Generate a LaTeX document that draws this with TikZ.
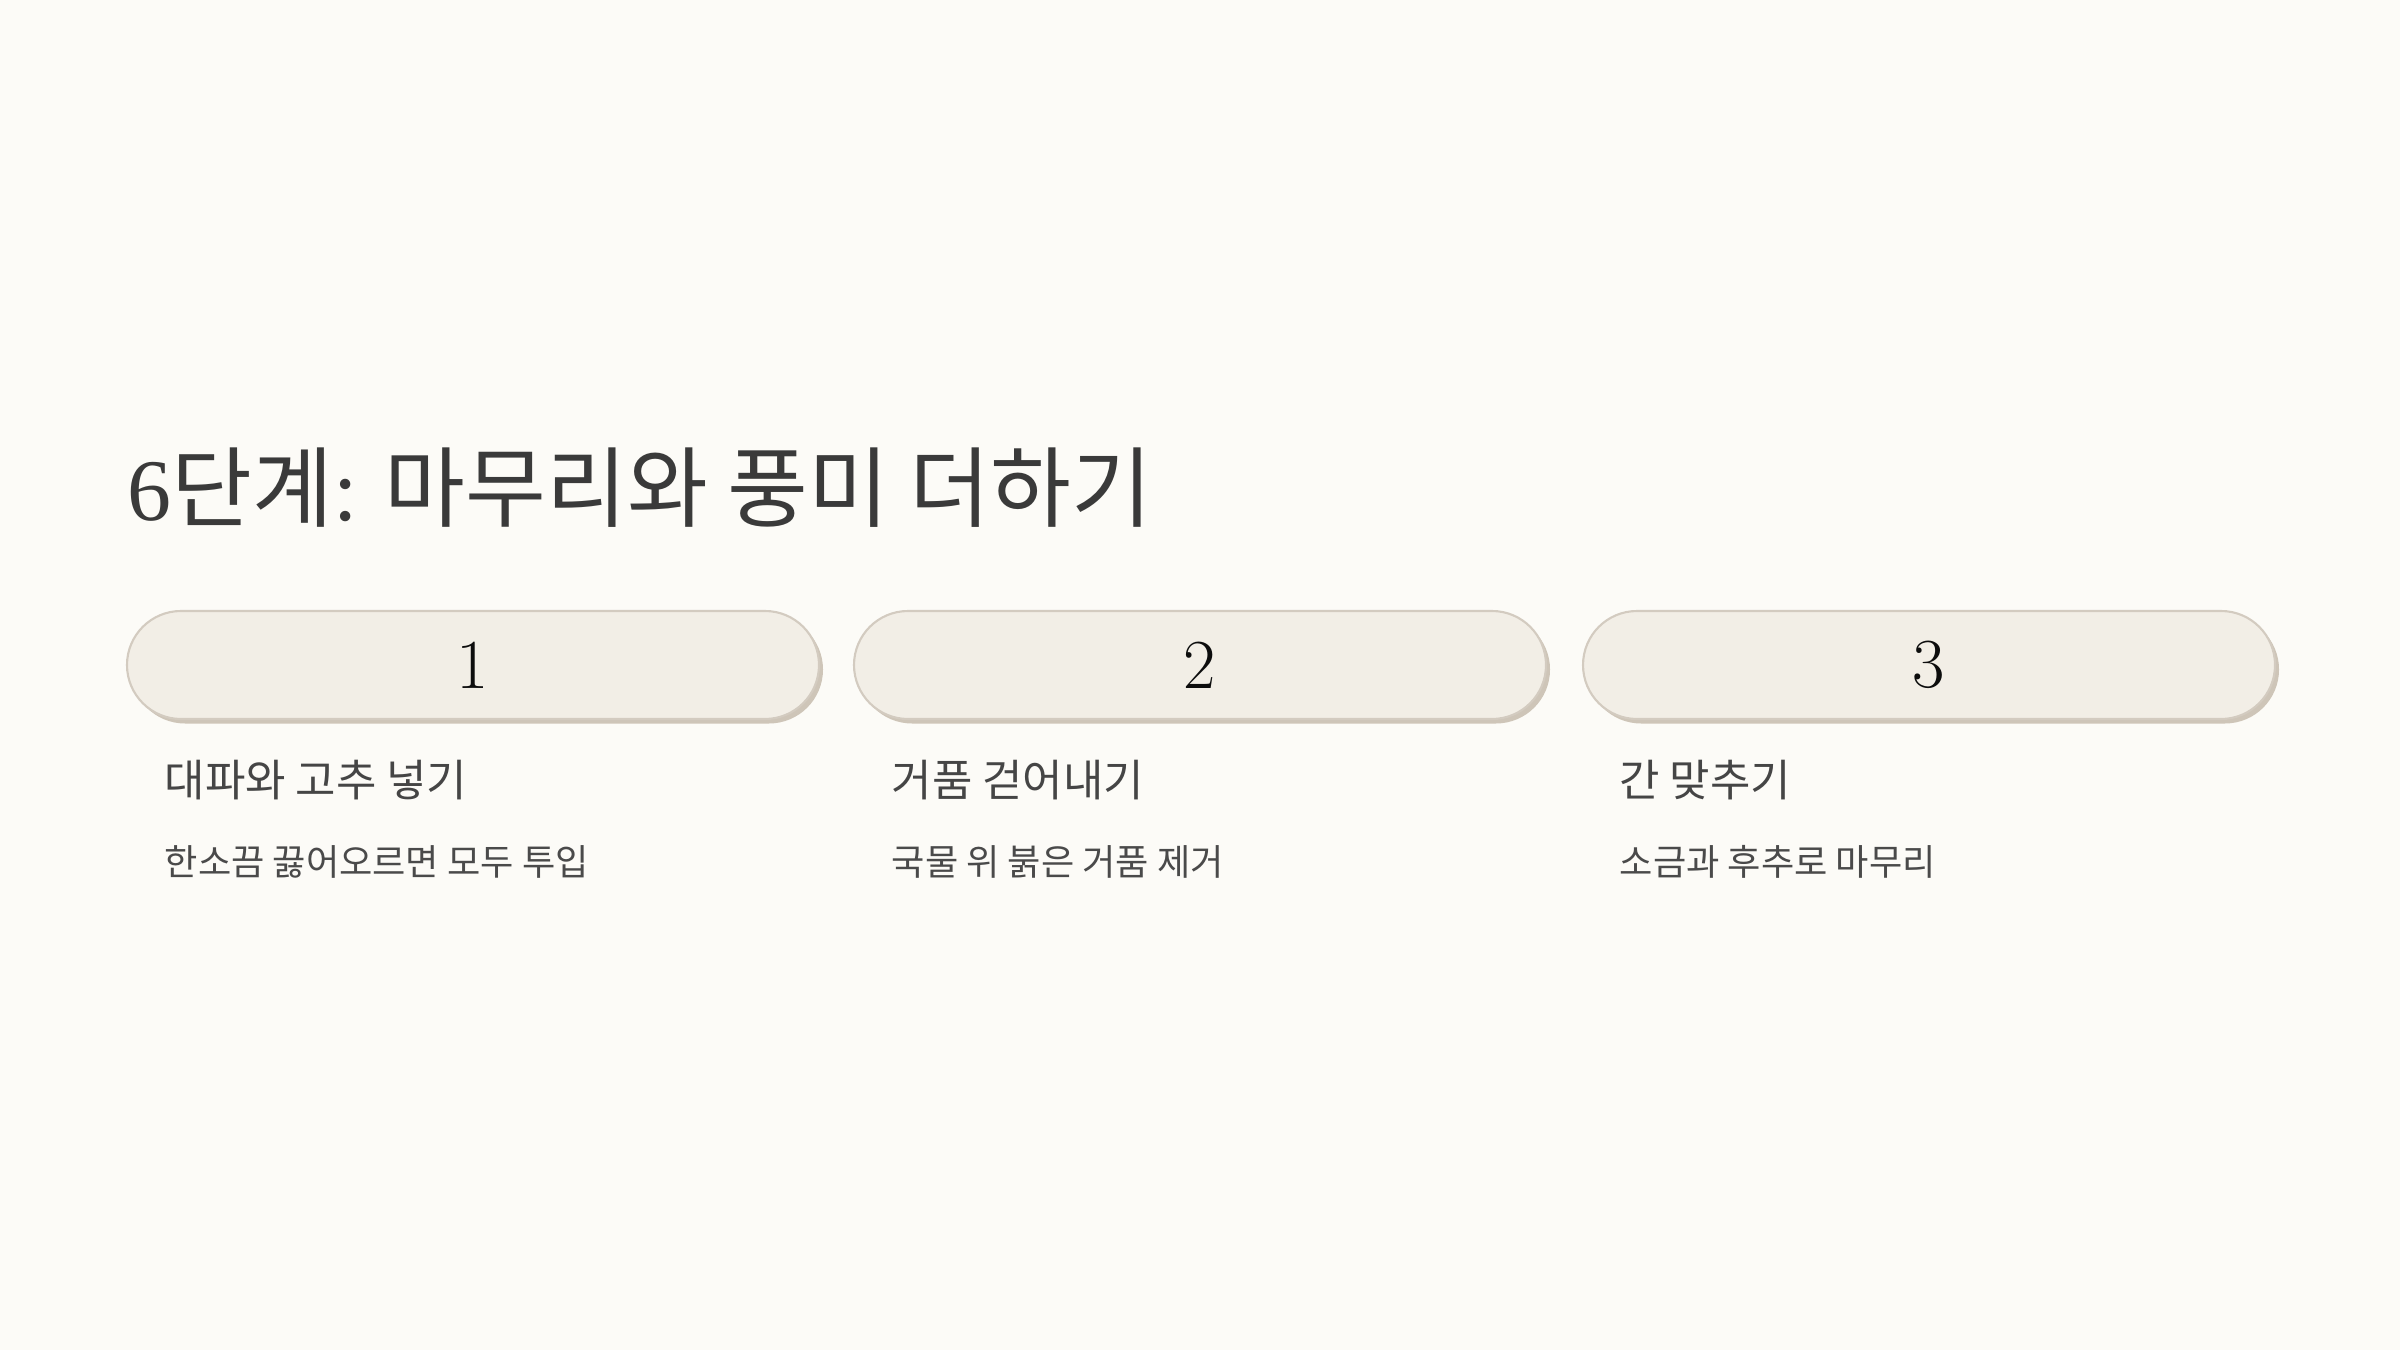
\documentclass[tikz,border=0pt]{standalone}
\usepackage{fontspec}
\newfontfamily\kr{Noto Sans CJK KR}
\newfontfamily\serifdig{Liberation Serif}
\usetikzlibrary{shadows}
\definecolor{bgc}{HTML}{FCFBF7}
\definecolor{pillfill}{HTML}{F2EEE6}
\definecolor{pillline}{HTML}{D3CBC0}
\definecolor{shadowc}{HTML}{CEC5B8}
\definecolor{titlec}{HTML}{3A3A3A}
\definecolor{headc}{HTML}{454545}
\definecolor{subc}{HTML}{4A4A4A}
\tikzset{
  pill/.style={draw=pillline, line width=0.6pt, fill=pillfill, rounded corners=0.54cm,
    minimum width=6.92cm, minimum height=1.08cm, inner sep=0pt,
    drop shadow={shadow xshift=0.04cm, shadow yshift=-0.045cm, fill=shadowc, opacity=1},
    font=\fontsize{20pt}{24pt}\selectfont, text=black!95},
  heading/.style={anchor=base west, inner sep=0pt, text=headc, font=\kr\fontsize{12.5pt}{15pt}\selectfont},
  subline/.style={anchor=base west, inner sep=0pt, text=subc, font=\kr\fontsize{10.3pt}{13pt}\selectfont},
  titlestyle/.style={anchor=base west, inner sep=0pt, text=titlec, font=\fontsize{25pt}{30pt}\selectfont}
}
\begin{document}
\begin{tikzpicture}
\fill[bgc] (0,0) rectangle (24,13.5);
\useasboundingbox (0,0) rectangle (24,13.5);
\node[titlestyle] (title) at (1.27,8.30) {{\serifdig 6}{\kr 단계}{\serifdig :}\hspace{0.31em}{\kr 마무리와 풍미 더하기}};
\node[pill] (p1) at (4.73,6.85) {1};
\node[pill] (p2) at (12.00,6.85) {2};
\node[pill] (p3) at (19.29,6.85) {3};
\node[heading] (h1) at (1.64,5.54) {대파와 고추 넣기};
\node[subline] (s1) at (1.64,4.75) {한소끔 끓어오르면 모두 투입};
\node[heading] (h2) at (8.91,5.54) {거품 걷어내기};
\node[subline] (s2) at (8.91,4.75) {국물 위 붉은 거품 제거};
\node[heading] (h3) at (16.19,5.54) {간 맞추기};
\node[subline] (s3) at (16.19,4.75) {소금과 후추로 마무리};
\end{tikzpicture}
\end{document}
